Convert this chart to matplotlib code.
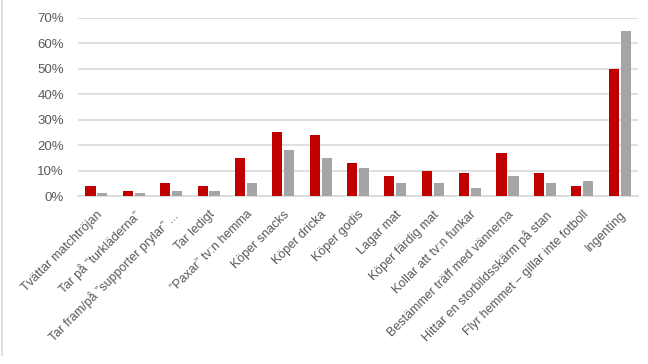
import numpy as np
import matplotlib
matplotlib.use('Agg')
import matplotlib.pyplot as plt
from matplotlib.lines import Line2D
from matplotlib.ticker import FuncFormatter

plt.rcParams['font.family'] = ['Liberation Sans', 'DejaVu Sans']

categories = [
    'Tvättar matchtröjan',
    'Tar på ”turkläderna”',
    'Tar fram/på ”supporter prylar” ...',
    'Tar ledigt',
    '”Paxar” tv:n hemma',
    'Köper snacks',
    'Köper dricka',
    'Köper godis',
    'Lagar mat',
    'Köper färdig mat',
    'Kollar att tv:n funkar',
    'Bestämmer träff med vännerna',
    'Hittar en storbildsskärm på stan',
    'Flyr hemmet – gillar inte fotboll',
    'Ingenting',
]
red_vals = [4, 2, 5, 4, 15, 25, 24, 13, 8, 10, 9, 17, 9, 4, 50]
gray_vals = [1, 1, 2, 2, 5, 18, 15, 11, 5, 5, 3, 8, 5, 6, 65]

DPI = 100
fig = plt.figure(dpi=DPI, figsize=(648 / DPI, 364 / DPI))
ax = fig.add_axes([0.120, 0.4615, 0.865, 0.4895])

x = np.arange(len(categories))
w = 0.27
ax.bar(x - 0.16, np.array(red_vals) / 100, w, color='#C00000', zorder=3)
ax.bar(x + 0.16, np.array(gray_vals) / 100, w, color='#A5A5A5', zorder=3)

ax.set_xlim(-0.5, len(categories) - 0.5)
ax.set_ylim(0, 0.70)
ax.set_yticks(np.arange(0, 0.71, 0.1))
ax.yaxis.set_major_formatter(FuncFormatter(lambda v, p: f'{v * 100:.0f}%'))
ax.grid(axis='y', color='#D9D9D9', linewidth=1.2, zorder=0)
for s in ['top', 'right', 'left']:
    ax.spines[s].set_visible(False)
ax.spines['bottom'].set_color('#D9D9D9')
ax.spines['bottom'].set_linewidth(1.2)
ax.tick_params(axis='both', length=0, colors='#595959')
ax.tick_params(axis='y', labelsize=9.5, pad=10)

ax.set_xticks(x)
ax.set_xticklabels(categories, rotation=45, ha='right', rotation_mode='anchor',
                   fontsize=9, color='#595959')
ax.tick_params(axis='x', pad=9)

fig.add_artist(Line2D([2 / 648, 2 / 648], [0.025, 1.0], color='#D9D9D9',
                      linewidth=1.2, transform=fig.transFigure))

fig.savefig('out.png', dpi=DPI)
